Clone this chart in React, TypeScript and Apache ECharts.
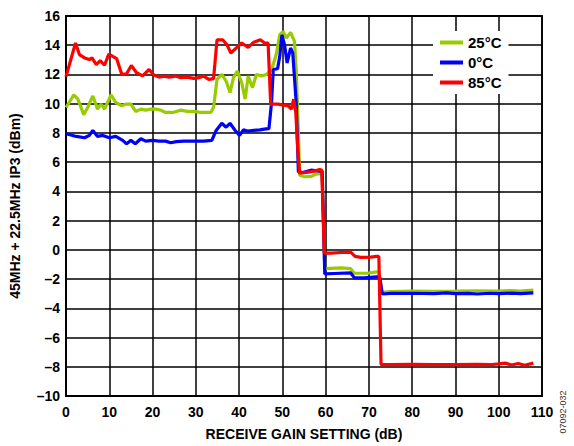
import React, { useEffect, useRef } from "react";
import * as echarts from "echarts";

const seriesNames = ["25°C", "0°C", "85°C"];
const seriesColors = ["#99CC00", "#0000FF", "#FF0000"];

const xTicks = { min: 0, max: 110, interval: 10 };
const yTicks = { min: -10, max: 16, interval: 2 };

const green25C: [number, number][] = [
  [0, 9.74], [1.8, 10.6], [2.75, 10.31], [4.1, 9.25], [5.0, 9.74], [6.2, 10.53], [7.3, 9.63], [8.1, 9.97],
  [8.9, 9.63], [10.4, 10.6], [11.5, 10.08], [12.9, 9.86], [13.8, 9.97], [15.0, 9.97], [16.1, 9.47],
  [17.3, 9.63], [18.4, 9.56], [19.6, 9.63], [20.7, 9.63], [21.9, 9.56], [23.0, 9.4], [24.9, 9.41],
  [26.5, 9.56], [28.0, 9.47], [29.5, 9.47], [31.0, 9.41], [33.5, 9.41], [34.1, 9.75], [34.9, 11.66],
  [36.0, 12.0], [37.0, 11.55], [37.9, 10.76], [38.7, 11.78], [39.6, 12.23], [40.6, 11.44], [41.4, 10.31],
  [42.1, 11.89], [43.1, 11.1], [44.0, 12.0], [45.2, 11.89], [46.3, 12.0], [47.5, 12.3], [48.6, 13.4],
  [49.4, 14.71], [50.2, 14.94], [50.9, 14.49], [51.9, 14.87], [52.8, 14.26], [53.2, 12.34], [53.6, 8.95],
  [54.0, 5.1], [55.1, 5.0], [56.7, 5.03], [57.8, 5.19], [58.6, 5.2], [59.2, 5.2], [59.8, -1.29],
  [63.5, -1.24], [65.8, -1.29], [66.6, -1.6], [69.6, -1.6], [71.8, -1.51], [72.3, -1.5], [72.8, -2.9],
  [75, -2.85], [80, -2.82], [85, -2.84], [90, -2.83], [95, -2.8], [100, -2.82], [103, -2.78], [105, -2.82],
  [108, -2.76],
];

const blue0C: [number, number][] = [
  [0, 7.94], [2.4, 7.76], [4.3, 7.67], [5.4, 7.83], [6.2, 8.17], [7.3, 7.76], [8.5, 7.83], [10.0, 7.67],
  [11.5, 7.76], [13.1, 7.49], [14.0, 7.26], [15.0, 7.49], [16.0, 7.26], [17.3, 7.6], [18.4, 7.44],
  [20.0, 7.49], [21.5, 7.44], [23.0, 7.44], [24.2, 7.33], [25.5, 7.4], [27.2, 7.44], [29.5, 7.44],
  [31.8, 7.44], [33.7, 7.49], [34.7, 8.17], [36.0, 8.66], [37.0, 8.39], [37.9, 8.66], [39.1, 8.17],
  [40.1, 7.83], [41.0, 8.21], [42.1, 8.12], [43.4, 8.17], [44.8, 8.21], [46.2, 8.28], [46.9, 8.3],
  [47.5, 10.08], [47.9, 12.34], [48.9, 12.39], [49.4, 13.24], [49.9, 14.71], [50.5, 14.03], [51.1, 12.79],
  [51.9, 13.81], [52.4, 13.47], [53.2, 10.08], [53.7, 5.34], [54.7, 5.29], [56.6, 5.45], [58.6, 5.39],
  [59.2, 5.4], [59.8, -1.65], [62, -1.62], [65.8, -1.58], [66.6, -1.9], [69, -1.92], [71.8, -1.85],
  [72.5, -1.85], [73.1, -3.02], [75, -2.98], [80, -2.97], [85, -2.99], [88, -2.95], [90, -3.0],
  [93, -2.98], [95, -3.02], [98, -2.97], [100, -3.0], [103, -2.96], [105, -2.99], [108, -2.95],
];

const red85C: [number, number][] = [
  [0, 11.85], [2.2, 14.15], [3.1, 13.36], [4.3, 13.13], [5.4, 13.02], [6.0, 13.13], [7.0, 12.68],
  [7.9, 12.95], [8.9, 12.63], [9.9, 13.4], [10.8, 13.24], [11.7, 13.09], [12.9, 12.0], [14.0, 12.05],
  [15.1, 12.61], [16.3, 12.12], [17.7, 11.9], [19.2, 12.34], [20.3, 11.96], [21.5, 11.82], [22.6, 11.89],
  [23.8, 11.82], [25.3, 11.89], [26.5, 11.78], [28.0, 11.82], [29.5, 11.73], [30.7, 11.78], [31.8, 11.89],
  [33.0, 11.66], [34.1, 11.71], [34.9, 14.37], [36.2, 14.37], [37.2, 14.03], [38.1, 13.47], [39.5, 13.85],
  [40.6, 14.15], [42.1, 13.85], [43.4, 14.21], [44.9, 14.37], [45.9, 14.15], [46.7, 14.15], [47.3, 9.97],
  [49.0, 9.97], [50.2, 9.9], [51.3, 9.86], [52.1, 9.63], [52.6, 10.31], [53.1, 9.41], [53.6, 6.7],
  [54.0, 5.25], [55.5, 5.3], [56.7, 5.35], [57.8, 5.42], [58.6, 5.49], [59.1, 5.46], [59.7, -0.23],
  [61.2, -0.23], [63.5, -0.18], [65.8, -0.16], [66.8, -0.45], [68.1, -0.52], [70.4, -0.5], [71.8, -0.45],
  [72.3, -0.45], [72.8, -7.85], [75, -7.85], [80, -7.83], [85, -7.85], [90, -7.85], [95, -7.84],
  [98, -7.86], [100, -7.8], [101.5, -7.75], [103, -7.88], [104.5, -7.78], [106, -7.9], [108, -7.75],
];

const seriesData = [green25C, blue0C, red85C];

const xAxisTitle = "RECEIVE GAIN SETTING (dB)";
const yAxisTitle = "45MHz + 22.5MHz IP3 (dBm)";
const watermark = "07092-032";

const FONT = "Arial, 'Liberation Sans', Helvetica, sans-serif";

export default function App() {
  const ref = useRef<HTMLDivElement>(null);
  useEffect(() => {
    if (!ref.current) return;
    const chart = echarts.init(ref.current, undefined, { renderer: "svg" });
    const fmt = (v: number) => (v < 0 ? "–" + Math.abs(v) : String(v));
    chart.setOption({
      animation: false,
      backgroundColor: "#fff",
      textStyle: { fontFamily: FONT },
      grid: {
        left: 63,
        right: 32,
        top: 16,
        bottom: 42,
        show: true,
        borderColor: "#000",
        borderWidth: 1.8,
        backgroundColor: "transparent",
      },
      legend: {
        data: seriesNames,
        orient: "vertical",
        left: 433,
        top: 31,
        padding: [4, 7, 4, 7],
        itemGap: 5,
        itemWidth: 23,
        itemHeight: 4,
        icon: "rect",
        backgroundColor: "#fff",
        textStyle: { fontFamily: FONT, fontSize: 15, fontWeight: "bold", color: "#000" },
      },
      xAxis: {
        type: "value",
        min: xTicks.min,
        max: xTicks.max,
        interval: xTicks.interval,
        name: xAxisTitle,
        nameLocation: "middle",
        nameGap: 31,
        nameTextStyle: { fontFamily: FONT, fontSize: 14, fontWeight: "bold", color: "#000" },
        axisLine: { show: true, onZero: false, lineStyle: { color: "#000", width: 1.8 } },
        axisTick: { show: false },
        axisLabel: { fontFamily: FONT, fontSize: 14, fontWeight: "bold", color: "#000", margin: 9, formatter: fmt },
        splitLine: { show: true, lineStyle: { color: "#000", width: 1.5 } },
      },
      yAxis: {
        type: "value",
        min: yTicks.min,
        max: yTicks.max,
        interval: yTicks.interval,
        name: yAxisTitle,
        nameLocation: "middle",
        nameGap: 44,
        nameTextStyle: { fontFamily: FONT, fontSize: 14, fontWeight: "bold", color: "#000" },
        axisLine: { show: true, onZero: false, lineStyle: { color: "#000", width: 1.8 } },
        axisTick: { show: false },
        axisLabel: { fontFamily: FONT, fontSize: 14, fontWeight: "bold", color: "#000", margin: 6, formatter: fmt },
        splitLine: { show: true, lineStyle: { color: "#000", width: 1.5 } },
      },
      series: seriesNames.map((name, i) => ({
        name,
        type: "line",
        data: seriesData[i],
        showSymbol: false,
        symbol: "none",
        smooth: false,
        color: seriesColors[i],
        lineStyle: { color: seriesColors[i], width: 3.2 },
        z: 2 + i,
      })),
      graphic: [
        {
          type: "text",
          x: 563,
          y: 412,
          rotation: Math.PI / 2,
          style: {
            text: watermark,
            fontFamily: FONT,
            fontSize: 9,
            fill: "#333",
            align: "center",
            verticalAlign: "middle",
          },
        },
      ],
    });
    return () => chart.dispose();
  }, []);
  return (
    <div
      ref={ref}
      style={{ position: "fixed", left: 0, top: 0, width: 574, height: 446 }}
    />
  );
}
